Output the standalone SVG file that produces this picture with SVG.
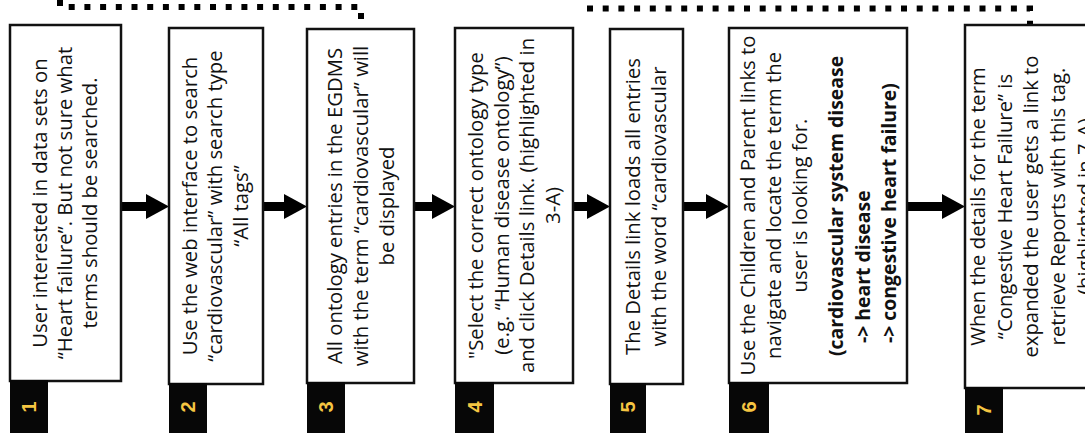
<svg xmlns="http://www.w3.org/2000/svg" width="1085" height="433" viewBox="0 0 1085 433">
  <style>
    .box { fill: #ffffff; stroke: #111111; stroke-width: 2.5; }
    .tab { fill: #070707; }
    .num { font-family: "Liberation Sans", "Open Sans", sans-serif; font-weight: bold; font-size: 20px; fill: #f5c542; text-anchor: middle; dominant-baseline: central; }
    .txt { font-family: "Open Sans", "Liberation Sans", sans-serif; font-size: 20.3px; fill: #111111; text-anchor: middle; }
    .bold { font-weight: bold; font-size: 19.4px; }
    .start { text-anchor: start; }
    .flow { stroke: #000000; stroke-width: 9; fill: none; marker-end: url(#head); }
    .dots { stroke: #000000; stroke-width: 6; fill: none; stroke-dasharray: 6 9.7; }
  </style>
  <defs>
    <marker id="head" markerUnits="userSpaceOnUse" markerWidth="23" markerHeight="25" refX="0" refY="12.5" orient="auto" overflow="visible">
      <path d="M0,0 L23,12.5 L0,25 Z" fill="#000000"/>
    </marker>
  </defs>

  <!-- connectors -->
  <g id="connectors">
    <path class="dots" d="M60,0 V7 H361 V28"/>
    <path class="dots" d="M587,8.5 H1030 V25"/>
    <line class="flow" x1="121" y1="206.5" x2="146" y2="206.5"/>
    <line class="flow" x1="263" y1="206.5" x2="284" y2="206.5"/>
    <line class="flow" x1="414" y1="206.5" x2="432" y2="206.5"/>
    <line class="flow" x1="573" y1="206.5" x2="587" y2="206.5"/>
    <line class="flow" x1="683" y1="206.5" x2="706" y2="206.5"/>
    <line class="flow" x1="907" y1="206.5" x2="942" y2="206.5"/>
  </g>

  <!-- step 1 -->
  <g id="step1">
    <rect class="box" x="10" y="25" width="111" height="356"/>
    <rect class="tab" x="10" y="380" width="38" height="53"/>
    <text class="num" transform="translate(29,407) rotate(-90)">1</text>
    <text class="txt" transform="translate(47,203) rotate(-90)">User interested in data sets on</text>
    <text class="txt" transform="translate(72,203) rotate(-90)">“Heart failure”. But not sure what</text>
    <text class="txt" transform="translate(97,203) rotate(-90)">terms should be searched.</text>
  </g>

  <!-- step 2 -->
  <g id="step2">
    <rect class="box" x="169" y="28" width="94" height="356"/>
    <rect class="tab" x="169" y="383" width="38" height="50"/>
    <text class="num" transform="translate(188,407) rotate(-90)">2</text>
    <text class="txt" transform="translate(197,206) rotate(-90)">Use the web interface to search</text>
    <text class="txt" transform="translate(222,206) rotate(-90)">“cardiovascular” with search type</text>
    <text class="txt" transform="translate(248,206) rotate(-90)">“All tags”</text>
  </g>

  <!-- step 3 -->
  <g id="step3">
    <rect class="box" x="307" y="29" width="107" height="354"/>
    <rect class="tab" x="307" y="382" width="38" height="51"/>
    <text class="num" transform="translate(326,407) rotate(-90)">3</text>
    <text class="txt" transform="translate(342,206) rotate(-90)">All ontology entries in the EGDMS</text>
    <text class="txt" transform="translate(368,206) rotate(-90)">with the term “cardiovascular” will</text>
    <text class="txt" transform="translate(394,206) rotate(-90)">be displayed</text>
  </g>

  <!-- step 4 -->
  <g id="step4">
    <rect class="box" x="455" y="28" width="118" height="355"/>
    <rect class="tab" x="455" y="382" width="39" height="51"/>
    <text class="num" transform="translate(474.5,407) rotate(-90)">4</text>
    <text class="txt" transform="translate(483,205.5) rotate(-90)">"Select the correct ontology type</text>
    <text class="txt" transform="translate(509,205.5) rotate(-90)">(e.g. “Human disease ontology”)</text>
    <text class="txt" transform="translate(534,205.5) rotate(-90)">and click Details link. (highlighted in</text>
    <text class="txt" transform="translate(560,205.5) rotate(-90)">3-A)</text>
  </g>

  <!-- step 5 -->
  <g id="step5">
    <rect class="box" x="610" y="29" width="73" height="355"/>
    <rect class="tab" x="610" y="383" width="36" height="50"/>
    <text class="num" transform="translate(628,407) rotate(-90)">5</text>
    <text class="txt" transform="translate(640,206.5) rotate(-90)">The Details link loads all entries</text>
    <text class="txt" transform="translate(666,206.5) rotate(-90)">with the word  “cardiovascular</text>
  </g>

  <!-- step 6 -->
  <g id="step6">
    <rect class="box" x="729" y="28" width="178" height="355"/>
    <rect class="tab" x="729" y="382" width="40" height="51"/>
    <text class="num" transform="translate(749,407) rotate(-90)">6</text>
    <text class="txt" transform="translate(755,205.5) rotate(-90)">Use the Children and Parent links to</text>
    <text class="txt" transform="translate(781,205.5) rotate(-90)">navigate and locate the term the</text>
    <text class="txt" transform="translate(807,205.5) rotate(-90)">user is looking for.</text>
    <text class="txt bold" transform="translate(843,206) rotate(-90)">(cardiovascular system disease</text>
    <text class="txt bold start" transform="translate(870,343) rotate(-90)">-&gt; heart disease</text>
    <text class="txt bold start" transform="translate(896,343) rotate(-90)">-&gt; congestive heart failure)</text>
  </g>

  <!-- step 7 -->
  <g id="step7">
    <rect class="box" x="965" y="25" width="140" height="363"/>
    <rect class="tab" x="965" y="387" width="38" height="46"/>
    <text class="num" transform="translate(984,410) rotate(-90)">7</text>
    <text class="txt" transform="translate(985,206.5) rotate(-90)">When the details for the term</text>
    <text class="txt" transform="translate(1012,206.5) rotate(-90)">“Congestive Heart Failure” is</text>
    <text class="txt" transform="translate(1038,206.5) rotate(-90)">expanded the user gets a link to</text>
    <text class="txt" transform="translate(1065,206.5) rotate(-90)">retrieve Reports with this tag.</text>
    <text class="txt" transform="translate(1092,206.5) rotate(-90)">(highlighted in 7-A)</text>
  </g>
</svg>
